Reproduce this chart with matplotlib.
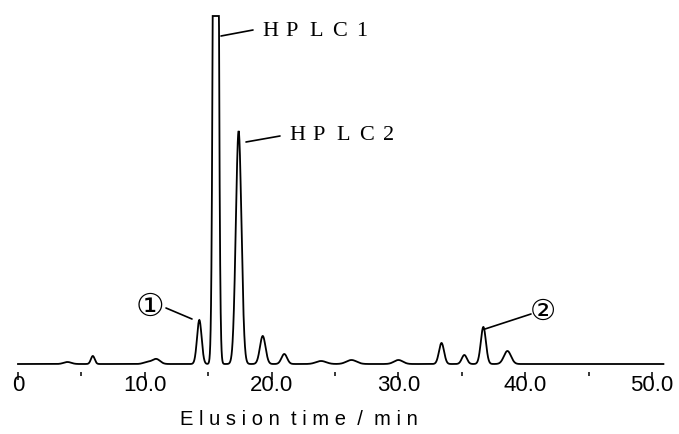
import numpy as np
import matplotlib.pyplot as plt

# peaks: retention time (min), height, width (sigma, min)
peak_times = [3.9, 5.9, 10.2, 10.9, 14.3, 15.6, 17.4, 19.3, 21.0, 23.9, 26.3, 30.0, 33.4, 35.2, 36.7, 38.6]
peak_heights = [2, 8, 2, 5, 44, 1400, 233, 28, 10, 3, 4, 4, 21, 9, 37, 13]
peak_sigmas = [0.3, 0.15, 0.3, 0.3, 0.18, 0.15, 0.22, 0.22, 0.22, 0.4, 0.4, 0.35, 0.2, 0.2, 0.2, 0.28]
pen_limit = 348      # recorder saturates here (flat top of HPLC1)
run_end = 50.9

major_ticks = [0, 10, 20, 30, 40, 50]
major_labels = ['0', '10.0', '20.0', '30.0', '40.0', '50.0']
minor_ticks = [5, 15, 25, 35, 45]

W, H = 679, 435
px_per_min = 12.68

# build the detector trace from the peak table
t = np.linspace(0, run_end, 5000)
signal = np.zeros_like(t)
for t0, h, s in zip(peak_times, peak_heights, peak_sigmas):
    signal += h * np.exp(-0.5 * ((t - t0) / s) ** 2)
signal = np.minimum(signal, pen_limit)

fig = plt.figure(figsize=(W / 100, H / 100), dpi=100)
ax = fig.add_axes([0, 0, 1, 1])
xmin = -18 / px_per_min
ax.set_xlim(xmin, xmin + W / px_per_min)
ax.set_ylim(-70, H - 70)

ax.plot(t, signal, color='black', lw=1.3, solid_joinstyle='miter')

for side in ['top', 'right', 'left', 'bottom']:
    ax.spines[side].set_visible(False)
ax.spines['bottom'].set_position(('data', -8))
ax.set_yticks([])
ax.set_xticks(major_ticks)
ax.set_xticklabels(major_labels, fontfamily='Liberation Sans', fontsize=16)
ax.set_xticks(minor_ticks, minor=True)
ax.tick_params(axis='x', which='major', direction='out', length=5.5, width=1.1, pad=-4)
ax.tick_params(axis='x', which='minor', direction='out', length=3, width=1.1)

fig.text(299 / W, 1 - 420 / H, 'E l u s i o n  t i m e  /  m i n',
         fontfamily='Liberation Sans', fontsize=14.5, ha='center', va='center')


def fig_px(x, y):
    return (x / W, 1 - y / H)


def spaced(x0, y0, s, step):
    for i, ch in enumerate(s):
        fig.text(*fig_px(x0 + i * step, y0), ch, fontfamily='Liberation Serif',
                 fontsize=16, ha='left', va='center')


line_kw = dict(arrowprops=dict(arrowstyle='-', lw=1.2, color='black', shrinkA=0, shrinkB=0),
               xycoords='figure fraction', textcoords='figure fraction')

# HPLC 1 / HPLC 2 labels with leader lines
ax.annotate('', xy=fig_px(221, 37), xytext=fig_px(253, 31), **line_kw)
spaced(262, 31, 'HPLC1', 23.5)
ax.annotate('', xy=fig_px(246, 143), xytext=fig_px(280, 137), **line_kw)
spaced(289, 136, 'HPLC2', 23.5)

# circled peak markers
ax.annotate('', xy=fig_px(192, 320), xytext=fig_px(166, 309), **line_kw)
fig.text(*fig_px(150, 307), '①', fontfamily='DejaVu Sans', fontsize=23, ha='center', va='center')
ax.annotate('', xy=fig_px(485, 330), xytext=fig_px(531, 315), **line_kw)
fig.text(*fig_px(543, 312), '②', fontfamily='DejaVu Sans', fontsize=21, ha='center', va='center')

fig.savefig('out.png', dpi=100)
